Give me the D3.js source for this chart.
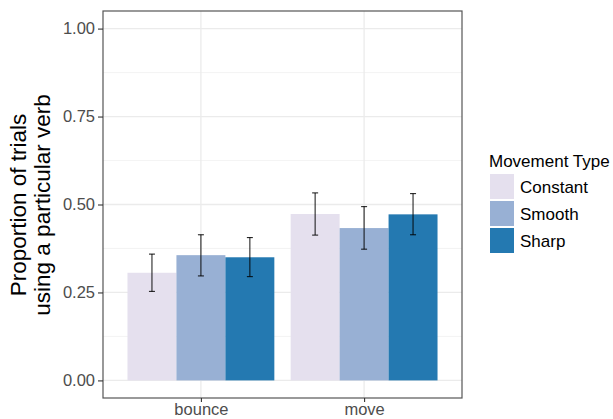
<!DOCTYPE html>
<html>
<head>
<meta charset="utf-8">
<script src="https://cdn.jsdelivr.net/npm/d3@7"></script>
<style>
  html, body { margin: 0; padding: 0; background: #fff; }
  svg { display: block; font-family: "Liberation Sans", Arial, sans-serif; }
</style>
</head>
<body>
<svg id="chart" width="613" height="419"></svg>
<script>
// Verbs and movement types
const verbs = ["bounce", "move"];
const movementTypes = ["Constant", "Smooth", "Sharp"];

// Mean proportion per movement type, one array per verb
const meanBounce = [0.306, 0.356, 0.350];
const meanMove   = [0.473, 0.433, 0.472];

// Error bar extents
const lowerBounce = [0.253, 0.297, 0.295];
const upperBounce = [0.359, 0.414, 0.406];
const lowerMove   = [0.413, 0.373, 0.414];
const upperMove   = [0.533, 0.494, 0.531];

// Axis ticks
const yTicks = [0, 0.25, 0.5, 0.75, 1];
const yMinorTicks = [0.125, 0.375, 0.625, 0.875];

const typeColors = ["#e5e0ee", "#98b0d4", "#2479b1"];

const rows = [];
verbs.forEach((v, vi) => {
  const m = vi === 0 ? meanBounce : meanMove;
  const lo = vi === 0 ? lowerBounce : lowerMove;
  const hi = vi === 0 ? upperBounce : upperMove;
  movementTypes.forEach((t, ti) => {
    rows.push({ verb: v, type: t, mean: m[ti], lo: lo[ti], hi: hi[ti] });
  });
});

const svg = d3.select("#chart");
svg.append("rect").attr("width", 613).attr("height", 419).attr("fill", "#fff");

const panel = { left: 103, right: 462, top: 11, bottom: 398 };

const x = d3.scalePoint().domain(verbs).range([panel.left, panel.right]).padding(0.6);
const groupWidth = x.step() * 0.9;
const xInner = d3.scaleBand().domain(movementTypes).range([-groupWidth / 2, groupWidth / 2]);
const y = d3.scaleLinear().domain([-0.05, 1.05]).range([panel.bottom, panel.top]);
const color = d3.scaleOrdinal().domain(movementTypes).range(typeColors);

const g = svg.append("g");

// Grid
g.selectAll("line.minor").data(yMinorTicks).join("line")
  .attr("x1", panel.left).attr("x2", panel.right)
  .attr("y1", d => y(d)).attr("y2", d => y(d))
  .attr("stroke", "#f0f0f0").attr("stroke-width", 0.8);
g.selectAll("line.major").data(yTicks).join("line")
  .attr("x1", panel.left).attr("x2", panel.right)
  .attr("y1", d => y(d)).attr("y2", d => y(d))
  .attr("stroke", "#ebebeb").attr("stroke-width", 1.3);
g.selectAll("line.vmajor").data(verbs).join("line")
  .attr("x1", d => x(d)).attr("x2", d => x(d))
  .attr("y1", panel.top).attr("y2", panel.bottom)
  .attr("stroke", "#ebebeb").attr("stroke-width", 1.3);

// Bars
g.selectAll("rect.bar").data(rows).join("rect")
  .attr("x", d => x(d.verb) + xInner(d.type))
  .attr("width", xInner.bandwidth())
  .attr("y", d => y(d.mean))
  .attr("height", d => y(0) - y(d.mean))
  .attr("fill", d => color(d.type));

// Error bars
const capHalf = 3;
const eb = g.selectAll("g.eb").data(rows).join("g")
  .attr("stroke", "#000").attr("stroke-opacity", 0.85).attr("stroke-width", 1.1);
eb.append("line")
  .attr("x1", d => x(d.verb) + xInner(d.type) + xInner.bandwidth() / 2)
  .attr("x2", d => x(d.verb) + xInner(d.type) + xInner.bandwidth() / 2)
  .attr("y1", d => y(d.lo)).attr("y2", d => y(d.hi));
eb.append("line")
  .attr("x1", d => x(d.verb) + xInner(d.type) + xInner.bandwidth() / 2 - capHalf)
  .attr("x2", d => x(d.verb) + xInner(d.type) + xInner.bandwidth() / 2 + capHalf)
  .attr("y1", d => y(d.hi)).attr("y2", d => y(d.hi));
eb.append("line")
  .attr("x1", d => x(d.verb) + xInner(d.type) + xInner.bandwidth() / 2 - capHalf)
  .attr("x2", d => x(d.verb) + xInner(d.type) + xInner.bandwidth() / 2 + capHalf)
  .attr("y1", d => y(d.lo)).attr("y2", d => y(d.lo));

// Panel border
svg.append("rect")
  .attr("x", panel.left).attr("y", panel.top)
  .attr("width", panel.right - panel.left).attr("height", panel.bottom - panel.top)
  .attr("fill", "none").attr("stroke", "#555").attr("stroke-width", 1.2);

// Axes
const yAxis = svg.append("g")
  .attr("transform", `translate(${panel.left},0)`)
  .call(d3.axisLeft(y).tickValues(yTicks).tickFormat(d3.format(".2f")).tickSize(5).tickPadding(3));
const xAxis = svg.append("g")
  .attr("transform", `translate(0,${panel.bottom})`)
  .call(d3.axisBottom(x).tickSize(4).tickPadding(2));
[yAxis, xAxis].forEach(a => {
  a.select(".domain").remove();
  a.selectAll(".tick line").attr("stroke", "#333").attr("stroke-width", 1.1);
  a.selectAll(".tick text")
    .attr("fill", "#4d4d4d")
    .style("font-size", "16.5px")
    .style("font-family", "'Liberation Sans', Arial, sans-serif");
});
xAxis.selectAll(".tick text").attr("dy", "0.66em");

// Y axis title
const yTitle = svg.append("text")
  .attr("transform", "translate(0,205) rotate(-90)")
  .attr("text-anchor", "middle")
  .attr("fill", "#000")
  .style("font-size", "22.5px");
yTitle.append("tspan").attr("x", 0).attr("y", 26).text("Proportion of trials");
yTitle.append("tspan").attr("x", 0).attr("y", 50).text("using a particular verb");

// Legend
const legend = svg.append("g").attr("transform", "translate(490,0)");
legend.append("text")
  .attr("x", -1).attr("y", 167)
  .attr("fill", "#000")
  .style("font-size", "17px")
  .text("Movement Type");
const keyH = 27;
const items = legend.selectAll("g.item").data(movementTypes).join("g")
  .attr("transform", (d, i) => `translate(0,${173 + i * keyH})`);
items.append("rect")
  .attr("x", 0).attr("y", 1).attr("width", 24).attr("height", keyH - 2)
  .attr("fill", d => color(d));
items.append("text")
  .attr("x", 30).attr("y", keyH / 2 + 6)
  .attr("fill", "#000")
  .style("font-size", "17px")
  .text(d => d);
</script>
</body>
</html>
